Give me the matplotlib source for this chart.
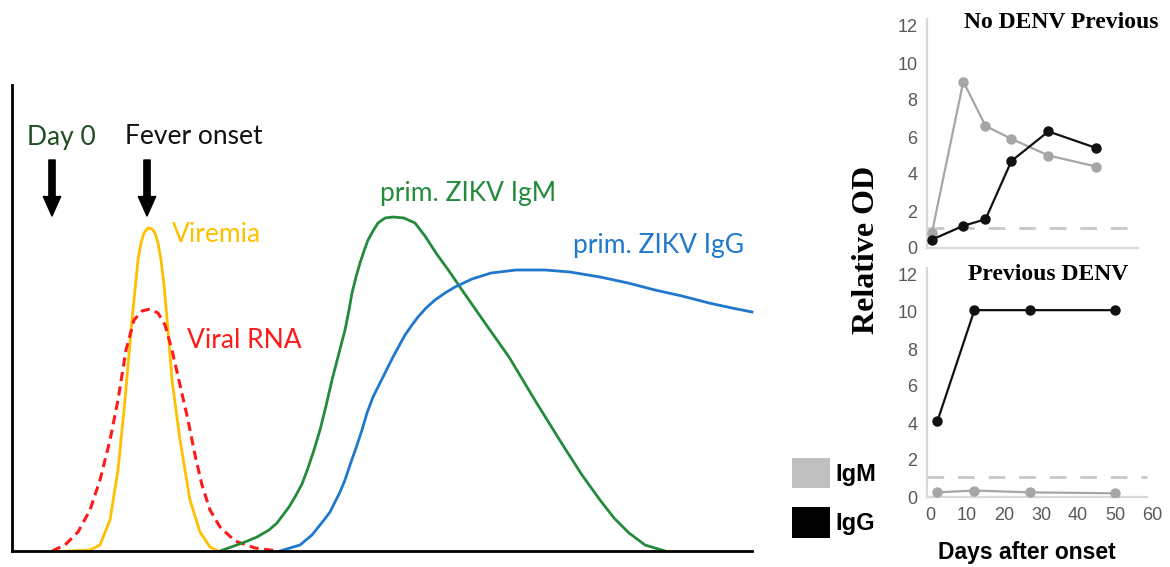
import matplotlib
matplotlib.use("Agg")
import matplotlib.pyplot as plt
from matplotlib.patches import Patch

# ---- left schematic (x: arbitrary time units, y: arbitrary level) ----
viremia_x = [58, 78, 88, 98, 106, 113, 120, 124, 126, 129, 132, 136, 140, 143, 146, 149, 152, 156, 160, 168,
             178, 188, 198, 206]
viremia_y = [0, 1, 6, 31, 81, 151, 231, 271, 291, 308, 318, 323, 322, 318, 308, 291, 266, 221, 171, 111,
             51, 19, 4, 0]

rna_x = [40, 53, 66, 78, 88, 98, 106, 114, 122, 130, 138, 146, 153, 160, 168, 176, 183, 190, 198, 208, 223, 243, 266]
rna_y = [0, 6, 19, 41, 71, 111, 151, 201, 231, 240, 242, 238, 226, 201, 166, 131, 96, 66, 41, 24, 10, 3, 0]

igm_x = [208, 222, 233, 245, 257, 265, 271, 277, 283, 290, 296, 302, 308, 314, 320, 327, 333, 337, 340, 344,
         348, 352, 356, 361, 366, 373, 381, 392, 403, 413, 424, 437,
         450, 473, 497, 524, 552, 570, 588, 602, 617, 633, 653]
igm_y = [0, 5, 9, 14, 21, 28, 36, 44, 54, 67, 83, 101, 121, 145, 171, 198, 221, 241, 258, 274,
         288, 300, 311, 320, 328, 333, 334, 333, 328, 315, 298, 280,
         261, 228, 194, 149, 104, 76, 51, 33, 18, 6, 0]

igg_x = [268, 288, 300, 312, 318, 323, 328, 333, 338, 344, 350, 355, 361, 368, 375, 381, 387, 393, 400, 406,
         414, 423, 433, 443, 460, 479, 504, 533, 558, 588, 616, 643, 670, 697, 720, 740]
igg_y = [0, 6, 16, 31, 39, 49, 59, 71, 86, 103, 121, 138, 154, 168, 182, 194, 205, 216, 226, 234,
         243, 251, 258, 264, 272, 278, 281, 281, 279, 274, 268, 261, 255, 248, 243, 239]

day0_x = 40
fever_x = 135

# ---- right panels: relative OD vs days after onset ----
days_no = [0.5, 9, 15, 22, 32, 45]
igm_no = [0.8, 9.0, 6.6, 5.9, 5.0, 4.4]
igg_no = [0.45, 1.2, 1.55, 4.7, 6.3, 5.4]

days_prev = [2, 12, 27, 50]
igm_prev = [0.25, 0.35, 0.25, 0.2]
igg_prev = [4.1, 10.1, 10.1, 10.1]

cutoff = 1.1

fig = plt.figure(figsize=(11.7, 5.67), dpi=100)

# left panel
ax = fig.add_axes([12 / 1170, 16 / 567, 740 / 1170, 466 / 567])
ax.set_xlim(0, 740)
ax.set_ylim(0, 466)
for s in ["top", "right"]:
    ax.spines[s].set_visible(False)
for s in ["left", "bottom"]:
    ax.spines[s].set_linewidth(2)
ax.set_xticks([])
ax.set_yticks([])

ax.plot(viremia_x, viremia_y, color="#FFC000", lw=2, clip_on=False)
ax.plot(rna_x, rna_y, color="#FF1A1A", lw=2.2, ls=(0, (3, 1.8)), clip_on=False)
ax.plot(igm_x, igm_y, color="#238B3A", lw=2, clip_on=False)
ax.plot(igg_x, igg_y, color="#1F78CC", lw=2, clip_on=False)

tf = "Lato"
ax.text(15, 414, "Day 0", color="#1E4D20", fontsize=19, family=tf, va="center")
ax.text(113, 414, "Fever onset", color="#111111", fontsize=19, family=tf, va="center")
ax.text(160, 316, "Viremia", color="#FFC000", fontsize=19, family=tf, va="center")
ax.text(175, 211, "Viral RNA", color="#FF1A1A", fontsize=19, family=tf, va="center")
ax.text(368, 358, "prim. ZIKV IgM", color="#238B3A", fontsize=19, family=tf, va="center")
ax.text(561, 305, "prim. ZIKV IgG", color="#1F78CC", fontsize=19, family=tf, va="center")

for xa in [day0_x, fever_x]:
    ax.annotate("", xy=(xa, 335), xytext=(xa, 391),
                arrowprops=dict(facecolor="black", edgecolor="black", width=4.5,
                                headwidth=12.5, headlength=14, shrink=0))

# right panels
xl = (-0.81, 61.0)
px_per_day = 3.7
gray = "#A6A6A6"
spine_c = "#D9D9D9"
tick_c = "#595959"


def style_panel(a, xend):
    a.set_xlim(*xl)
    a.set_ylim(0, 12.4)
    a.set_yticks(range(0, 13, 2))
    for s in ["top", "right"]:
        a.spines[s].set_visible(False)
    for s in ["left", "bottom"]:
        a.spines[s].set_color(spine_c)
        a.spines[s].set_linewidth(1.6)
    a.spines["bottom"].set_bounds(xl[0], xend)
    a.tick_params(length=0, labelsize=13, labelcolor=tick_c, pad=7)
    for lab in a.get_yticklabels() + a.get_xticklabels():
        lab.set_family("Liberation Sans")
    a.plot([xl[0], xend], [cutoff, cutoff], color="#C8C8C8", lw=2, ls=(0, (6, 5)), zorder=1)


w = (xl[1] - xl[0]) * px_per_day
ax1 = fig.add_axes([927 / 1170, (567 - 248) / 567, w / 1170, 229.4 / 567])
ax1.set_xticks([])
style_panel(ax1, 56.2)
ax1.plot(days_no, igm_no, color=gray, lw=1.6, marker="o", ms=6.5, zorder=3)
ax1.plot(days_no, igg_no, color="#111111", lw=1.6, marker="o", ms=6.5, zorder=4)

ax2 = fig.add_axes([927 / 1170, 70 / 567, w / 1170, 229.4 / 567])
ax2.set_xticks(range(0, 61, 10))
style_panel(ax2, 58.6)
ax2.plot(days_prev, igm_prev, color=gray, lw=1.6, marker="o", ms=6.5, zorder=3)
ax2.plot(days_prev, igg_prev, color="#111111", lw=1.6, marker="o", ms=6.5, zorder=4)

fig.text(1061 / 1170, 1 - 22 / 567, "No DENV Previous", family="Liberation Serif",
         weight="bold", fontsize=17, ha="center", va="center")
fig.text(1048 / 1170, 1 - 275 / 567, "Previous DENV", family="Liberation Serif",
         weight="bold", fontsize=17, ha="center", va="center")
fig.text(867 / 1170, 1 - 250 / 567, "Relative OD", family="Liberation Serif",
         weight="bold", fontsize=23, ha="center", va="center", rotation=90)
fig.text(1027 / 1170, 1 - 553 / 567, "Days after onset", family="Liberation Sans",
         weight="bold", fontsize=16.5, ha="center", va="center")

handles = [Patch(facecolor="#BFBFBF", edgecolor="none"), Patch(facecolor="black", edgecolor="none")]
leg = fig.legend(handles, ["IgM", "IgG"], loc="upper left", bbox_to_anchor=(792 / 1170, 1 - 458 / 567),
                 frameon=False, handlelength=1.6, handleheight=1.6, labelspacing=0.8,
                 handletextpad=0.25, borderpad=0, borderaxespad=0,
                 prop={"family": "Liberation Sans", "weight": "bold", "size": 17})

fig.savefig("out.png", dpi=100)
